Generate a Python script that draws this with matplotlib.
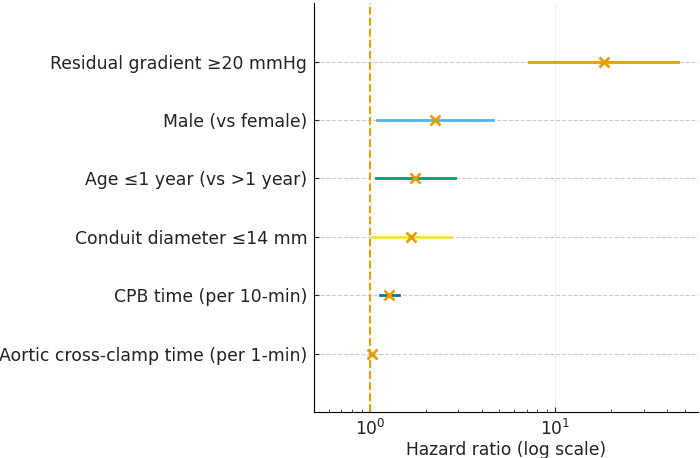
import numpy as np
import matplotlib
matplotlib.use("Agg")
import matplotlib.pyplot as plt

labels = ["Residual gradient \u226520 mmHg", "Male (vs female)", "Age \u22641 year (vs >1 year)",
          "Conduit diameter \u226414 mm", "CPB time (per 10-min)", "Aortic cross-clamp time (per 1-min)"]
hr = [18.4, 2.25, 1.75, 1.67, 1.27, 1.02]
lo = [7.2, 1.09, 1.08, 1.02, 1.13, 1.01]
hi = [46.0, 4.6, 2.88, 2.74, 1.43, 1.04]
colors = ["#E69F00", "#56B4E9", "#009E73", "#F0E442", "#0072B2", "#D55E00"]

plt.rcParams['font.family'] = ['DejaVu Sans']
plt.rcParams['text.color'] = '#222222'
plt.rcParams['axes.labelcolor'] = '#222222'
plt.rcParams['xtick.color'] = '#222222'
plt.rcParams['ytick.color'] = '#222222'

fig, ax = plt.subplots(figsize=(7, 4.58), dpi=100)
y = np.arange(len(labels))[::-1]

for i in range(len(labels)):
    ax.plot([lo[i], hi[i]], [y[i], y[i]], color=colors[i], lw=2, zorder=3)
    ax.plot(hr[i], y[i], 'x', color="#E69F00", ms=7, mew=2, zorder=4)

ax.axvline(1, color="#E69F00", ls='--', lw=1.5, zorder=2)
ax.set_xscale('log')
ax.set_xlim(0.5, 59)
ax.set_ylim(-1, 6)
ax.set_yticks(y)
ax.set_yticklabels(labels, fontsize=12.4)
ax.set_xlabel("Hazard ratio (log scale)", fontsize=12.3, labelpad=1)
ax.tick_params(axis='x', labelsize=12.3, direction='in', which='both', pad=5)
ax.tick_params(axis='y', direction='in', pad=5)
ax.grid(axis='y', ls='--', color='#cccccc', lw=0.8)
ax.grid(axis='x', which='major', color='#eeeeee', lw=0.8)
ax.spines['top'].set_visible(False)
ax.spines['right'].set_visible(False)

fig.subplots_adjust(left=0.449, right=0.997, top=0.993, bottom=0.100)
plt.savefig("out.png")
